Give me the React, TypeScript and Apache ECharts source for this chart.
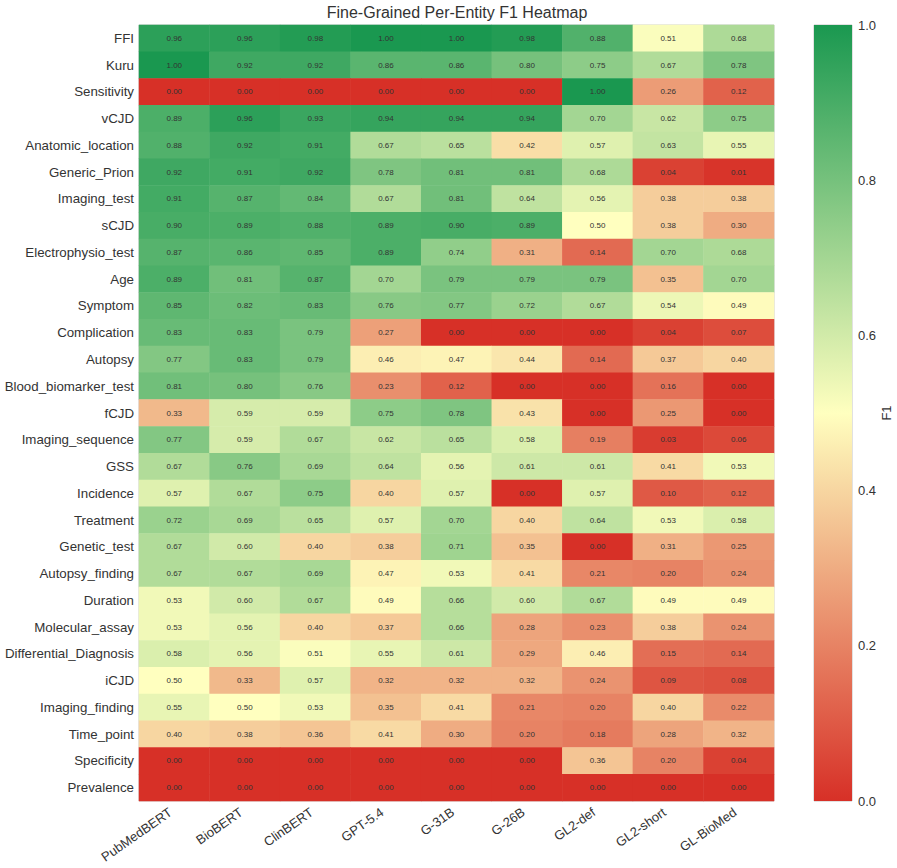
import React, { useEffect, useRef } from "react";
import * as echarts from "echarts";

const models = ["PubMedBERT", "BioBERT", "ClinBERT", "GPT-5.4", "G-31B", "G-26B", "GL2-def", "GL2-short", "GL-BioMed"];

const entities = [
  "FFI", "Kuru", "Sensitivity", "vCJD", "Anatomic_location", "Generic_Prion", "Imaging_test", "sCJD",
  "Electrophysio_test", "Age", "Symptom", "Complication", "Autopsy", "Blood_biomarker_test", "fCJD",
  "Imaging_sequence", "GSS", "Incidence", "Treatment", "Genetic_test", "Autopsy_finding", "Duration",
  "Molecular_assay", "Differential_Diagnosis", "iCJD", "Imaging_finding", "Time_point", "Specificity", "Prevalence",
];

// F1 per entity (rows) and model (columns)
const f1Scores: number[][] = [
  [0.96, 0.96, 0.98, 1.0, 1.0, 0.98, 0.88, 0.51, 0.68],
  [1.0, 0.92, 0.92, 0.86, 0.86, 0.8, 0.75, 0.67, 0.78],
  [0.0, 0.0, 0.0, 0.0, 0.0, 0.0, 1.0, 0.26, 0.12],
  [0.89, 0.96, 0.93, 0.94, 0.94, 0.94, 0.7, 0.62, 0.75],
  [0.88, 0.92, 0.91, 0.67, 0.65, 0.42, 0.57, 0.63, 0.55],
  [0.92, 0.91, 0.92, 0.78, 0.81, 0.81, 0.68, 0.04, 0.01],
  [0.91, 0.87, 0.84, 0.67, 0.81, 0.64, 0.56, 0.38, 0.38],
  [0.9, 0.89, 0.88, 0.89, 0.9, 0.89, 0.5, 0.38, 0.3],
  [0.87, 0.86, 0.85, 0.89, 0.74, 0.31, 0.14, 0.7, 0.68],
  [0.89, 0.81, 0.87, 0.7, 0.79, 0.79, 0.79, 0.35, 0.7],
  [0.85, 0.82, 0.83, 0.76, 0.77, 0.72, 0.67, 0.54, 0.49],
  [0.83, 0.83, 0.79, 0.27, 0.0, 0.0, 0.0, 0.04, 0.07],
  [0.77, 0.83, 0.79, 0.46, 0.47, 0.44, 0.14, 0.37, 0.4],
  [0.81, 0.8, 0.76, 0.23, 0.12, 0.0, 0.0, 0.16, 0.0],
  [0.33, 0.59, 0.59, 0.75, 0.78, 0.43, 0.0, 0.25, 0.0],
  [0.77, 0.59, 0.67, 0.62, 0.65, 0.58, 0.19, 0.03, 0.06],
  [0.67, 0.76, 0.69, 0.64, 0.56, 0.61, 0.61, 0.41, 0.53],
  [0.57, 0.67, 0.75, 0.4, 0.57, 0.0, 0.57, 0.1, 0.12],
  [0.72, 0.69, 0.65, 0.57, 0.7, 0.4, 0.64, 0.53, 0.58],
  [0.67, 0.6, 0.4, 0.38, 0.71, 0.35, 0.0, 0.31, 0.25],
  [0.67, 0.67, 0.69, 0.47, 0.53, 0.41, 0.21, 0.2, 0.24],
  [0.53, 0.6, 0.67, 0.49, 0.66, 0.6, 0.67, 0.49, 0.49],
  [0.53, 0.56, 0.4, 0.37, 0.66, 0.28, 0.23, 0.38, 0.24],
  [0.58, 0.56, 0.51, 0.55, 0.61, 0.29, 0.46, 0.15, 0.14],
  [0.5, 0.33, 0.57, 0.32, 0.32, 0.32, 0.24, 0.09, 0.08],
  [0.55, 0.5, 0.53, 0.35, 0.41, 0.21, 0.2, 0.4, 0.22],
  [0.4, 0.38, 0.36, 0.41, 0.3, 0.2, 0.18, 0.28, 0.32],
  [0.0, 0.0, 0.0, 0.0, 0.0, 0.0, 0.36, 0.2, 0.04],
  [0.0, 0.0, 0.0, 0.0, 0.0, 0.0, 0.0, 0.0, 0.0],
];

const colorStops = ["#d73027", "#ffffbf", "#1a9850"];
const FONT = "'Liberation Sans', Arial, sans-serif";

export default function App() {
  const ref = useRef<HTMLDivElement>(null);

  useEffect(() => {
    if (!ref.current) return;
    const chart = echarts.init(ref.current, null, { renderer: "svg" });

    const cells: [number, number, number][] = [];
    f1Scores.forEach((row, r) => row.forEach((v, c) => cells.push([c, r, v])));

    chart.setOption({
      animation: false,
      backgroundColor: "#ffffff",
      textStyle: { fontFamily: FONT },
      graphic: [
        {
          type: "text",
          x: 457,
          y: 12.5,
          style: {
            text: "Fine-Grained Per-Entity F1 Heatmap",
            fontSize: 16,
            fontFamily: FONT,
            fill: "#333",
            align: "center",
            verticalAlign: "middle",
          },
        },
      ],
      grid: [
        {
          left: 139, top: 25, width: 635, height: 776, show: true,
          borderColor: "#cccccc", borderWidth: 1, backgroundColor: "transparent",
          containLabel: false, outerBoundsMode: "none",
        },
        {
          left: 814, top: 25, width: 38, height: 776, show: true,
          borderColor: "#c4c4c4", borderWidth: 1, backgroundColor: "transparent",
          containLabel: false, outerBoundsMode: "none",
        },
      ],
      xAxis: [
        {
          type: "category",
          gridIndex: 0,
          data: models,
          axisLine: { show: false },
          axisTick: { show: false },
          splitLine: { show: false },
          axisLabel: {
            rotate: 35, fontSize: 13, color: "#333", margin: 15, interval: 0,
            align: "right", verticalAlign: "bottom", fontFamily: FONT,
          },
        },
        {
          type: "category",
          gridIndex: 1,
          data: [""],
          show: false,
        },
      ],
      yAxis: [
        {
          type: "category",
          gridIndex: 0,
          data: entities,
          inverse: true,
          axisLine: { show: false },
          axisTick: { show: false },
          splitLine: { show: false },
          axisLabel: { fontSize: 13.3, color: "#333", margin: 5, interval: 0, fontFamily: FONT },
        },
        {
          type: "value",
          gridIndex: 1,
          min: 0,
          max: 1,
          interval: 0.2,
          position: "right",
          axisLine: { show: false },
          axisTick: { show: false },
          splitLine: { show: false },
          axisLabel: { fontSize: 13, color: "#333", margin: 6, formatter: (v: number) => v.toFixed(1), fontFamily: FONT },
          name: "F1",
          nameLocation: "middle",
          nameRotate: 90,
          nameGap: 27,
          nameTextStyle: { fontSize: 13, color: "#333", fontFamily: FONT },
        },
      ],
      visualMap: {
        type: "continuous",
        show: false,
        min: 0,
        max: 1,
        seriesIndex: 0,
        inRange: { color: colorStops },
      },
      series: [
        {
          type: "heatmap",
          xAxisIndex: 0,
          yAxisIndex: 0,
          data: cells,
          label: {
            show: true,
            fontSize: 8,
            color: "#333",
            fontFamily: FONT,
            formatter: (p: any) => (p.value[2] as number).toFixed(2),
          },
          itemStyle: { borderWidth: 0 },
        },
        {
          type: "bar",
          xAxisIndex: 1,
          yAxisIndex: 1,
          data: [1],
          barWidth: "100%",
          silent: true,
          itemStyle: {
            color: new echarts.graphic.LinearGradient(0, 0, 0, 1, [
              { offset: 0, color: colorStops[2] },
              { offset: 0.5, color: colorStops[1] },
              { offset: 1, color: colorStops[0] },
            ]),
          },
        },
      ],
    });

    return () => chart.dispose();
  }, []);

  // Full-page chart box so the title and rotated labels stay inside the SVG
  return <div ref={ref} style={{ position: "absolute", left: 0, top: 0, width: 897, height: 868 }} />;
}
